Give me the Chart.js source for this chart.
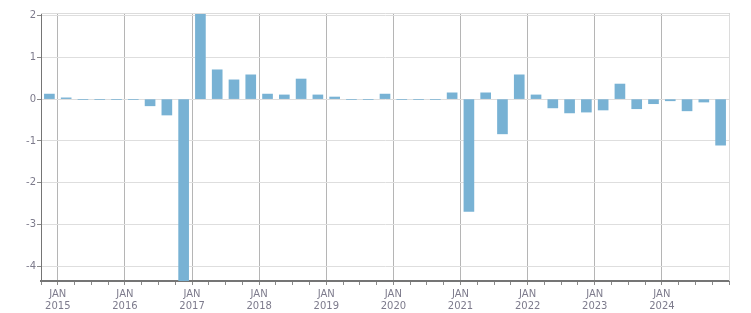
<!DOCTYPE html>
<html>
<head>
<meta charset="utf-8">
<script src="https://cdn.jsdelivr.net/npm/chart.js@4.4.1/dist/chart.umd.min.js"></script>
<style>
  html, body { margin: 0; padding: 0; background: #fff; }
  #wrap { width: 751px; height: 313px; position: relative; }
</style>
</head>
<body>
<div id="wrap"><canvas id="chart"></canvas></div>
<script>
"use strict";

// Quarterly periods, Q4 2014 .. Q4 2024
const quarters = [
  "2014Q4",
  "2015Q1", "2015Q2", "2015Q3", "2015Q4",
  "2016Q1", "2016Q2", "2016Q3", "2016Q4",
  "2017Q1", "2017Q2", "2017Q3", "2017Q4",
  "2018Q1", "2018Q2", "2018Q3", "2018Q4",
  "2019Q1", "2019Q2", "2019Q3", "2019Q4",
  "2020Q1", "2020Q2", "2020Q3", "2020Q4",
  "2021Q1", "2021Q2", "2021Q3", "2021Q4",
  "2022Q1", "2022Q2", "2022Q3", "2022Q4",
  "2023Q1", "2023Q2", "2023Q3", "2023Q4",
  "2024Q1", "2024Q2", "2024Q3", "2024Q4",
];

const values = [
  0.12,
  0.03, -0.01, -0.01, -0.01,
  -0.01, -0.16, -0.38, -4.34,
  2.05, 0.70, 0.46, 0.58,
  0.12, 0.10, 0.48, 0.10,
  0.05, -0.01, -0.01, 0.12,
  -0.01, -0.01, -0.01, 0.15,
  -2.68, 0.15, -0.83, 0.58,
  0.10, -0.21, -0.33, -0.31,
  -0.26, 0.36, -0.23, -0.11,
  -0.04, -0.28, -0.07, -1.10,
];

const monthLabel = "JAN";
const yearLabels = ["2015", "2016", "2017", "2018", "2019", "2020", "2021", "2022", "2023", "2024"];

// quarter -> decimal year at the middle of the quarter
function quarterPos(q) {
  const year = parseInt(q.slice(0, 4), 10);
  const n = parseInt(q.slice(5), 10);
  return year + (n - 1) / 4 + 0.125;
}

const points = quarters.map((q, i) => ({ x: quarterPos(q), y: values[i] }));

const xMin = quarterPos(quarters[0]) - 0.125;
const xMax = quarterPos(quarters[quarters.length - 1]) + 0.125;

const labelColor = "#7d7b8c";
const font = { family: "'DejaVu Sans', Verdana, sans-serif", size: 10 };

// light frame on the top and right of the plot area
const framePlugin = {
  id: "frame",
  afterDatasetsDraw(chart) {
    const { ctx, chartArea: a } = chart;
    ctx.save();
    ctx.strokeStyle = "#dcdcdc";
    ctx.lineWidth = 1;
    ctx.beginPath();
    ctx.moveTo(a.left, a.top + 0.5);
    ctx.lineTo(a.right + 0.5, a.top + 0.5);
    ctx.lineTo(a.right + 0.5, a.bottom);
    ctx.stroke();
    ctx.restore();
  },
};

function isYear(v) {
  return Math.abs(v - Math.round(v)) < 1e-6;
}

new Chart(document.getElementById("chart"), {
  type: "bar",
  data: {
    datasets: [{
      data: points,
      backgroundColor: "#78b2d4",
      borderWidth: 0,
      barThickness: 10,
    }],
  },
  options: {
    responsive: true,
    maintainAspectRatio: false,
    animation: false,
    layout: { padding: { top: 13, right: 22, left: 0, bottom: 0 } },
    plugins: { legend: { display: false }, tooltip: { enabled: false } },
    scales: {
      x: {
        type: "linear",
        min: xMin,
        max: xMax,
        offset: false,
        afterFit(scale) { scale.height = 32; },
        border: { color: "#757575", width: 2 },
        grid: {
          offset: false,
          color: (c) => (c.tick && isYear(c.tick.value) ? "#b5b5b5" : "rgba(0,0,0,0)"),
          tickColor: "#8a8a8a",
          tickLength: 4,
          lineWidth: 1,
        },
        ticks: {
          stepSize: 0.25,
          includeBounds: false,
          autoSkip: false,
          maxRotation: 0,
          padding: 3,
          color: labelColor,
          font,
          callback(v) {
            if (!isYear(v)) return "";
            const y = String(Math.round(v));
            return yearLabels.includes(y) ? [monthLabel, y] : "";
          },
        },
      },
      y: {
        min: -4.345,
        max: 2.057,
        afterFit(scale) { scale.width = 41; },
        border: { color: "#757575", width: 1 },
        grid: {
          color: "#dedede",
          tickColor: "#8a8a8a",
          tickLength: 4,
        },
        ticks: {
          stepSize: 1,
          includeBounds: false,
          padding: 1,
          color: labelColor,
          font,
        },
      },
    },
  },
  plugins: [framePlugin],
});
</script>
</body>
</html>
